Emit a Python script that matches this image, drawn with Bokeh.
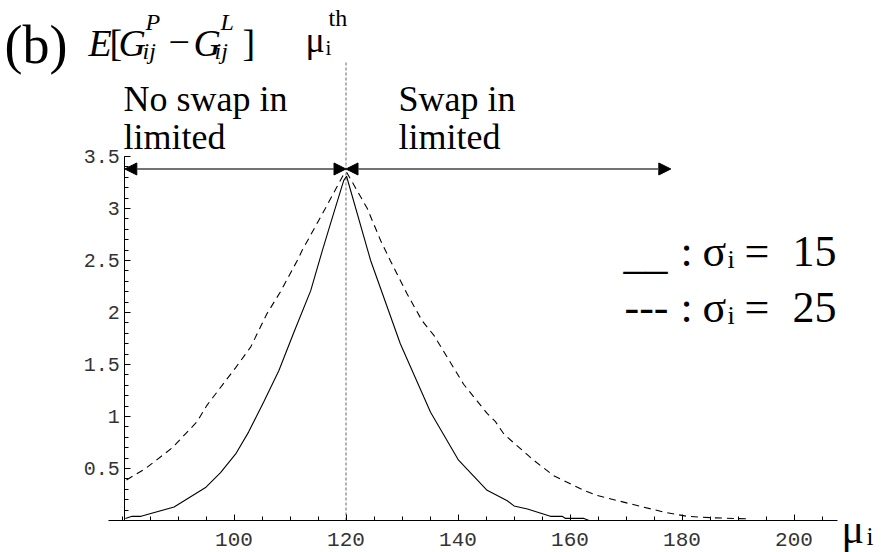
from bokeh.plotting import figure
from bokeh.models import Range1d, FixedTicker, Label, Arrow, NormalHead
from bokeh.embed import file_html
from bokeh.resources import INLINE

# ---------------- data ----------------
solid_x = [80.6, 81.8, 83.4, 89.3, 95.0, 97.6, 100.3, 102.6, 105.3, 108.0, 110.7,
           113.7, 115.8, 117.6, 119.6, 120.1, 124.4, 129.7, 135.1, 140.1, 145.2,
           148.8, 150.0, 152.4, 156.5, 158.6, 159.2, 162.5, 163.4]
solid_y = [0.02, 0.04, 0.04, 0.13, 0.32, 0.46, 0.64, 0.85, 1.14, 1.44, 1.81,
           2.21, 2.60, 2.92, 3.27, 3.31, 2.50, 1.70, 1.04, 0.58, 0.29,
           0.19, 0.14, 0.11, 0.04, 0.04, 0.02, 0.02, 0.0]

dashed_x = [80.8, 84.2, 89.0, 93.4, 95.2, 100.3, 103.0, 105.9, 108.3, 111.3, 112.2,
            116.3, 119.6, 120.1, 123.8, 126.2, 127.9, 130.9, 133.6, 135.7, 141.0,
            143.4, 145.2, 146.7, 148.2, 153.5, 157.1, 162.5, 164.9, 170.8, 176.8,
            180.9, 185.7, 191.6]
dashed_y = [0.39, 0.50, 0.70, 0.95, 1.11, 1.47, 1.67, 1.99, 2.20, 2.50, 2.60,
            3.00, 3.33, 3.35, 3.00, 2.69, 2.50, 2.18, 1.92, 1.78, 1.31,
            1.15, 1.03, 0.95, 0.83, 0.58, 0.43, 0.29, 0.24, 0.16, 0.08,
            0.04, 0.026, 0.016]

mu_th = 120
x_start = 80.5          # left end of data / y-axis position
x_axis_bounds = (77.6, 207.8)
y_axis_bounds = (0, 3.5)
swap_end = 178          # end of the "Swap in limited" arrow
arrow_level = 3.38

x_ticks = [100, 120, 140, 160, 180, 200]
x_tick_labels = ["100", "120", "140", "160", "180", "200"]
y_ticks = [0.5, 1, 1.5, 2, 2.5, 3, 3.5]
y_tick_labels = ["0.5", "1", "1.5", "2", "2.5", "3", "3.5"]

# ---------------- figure ----------------
W, H = 888, 552
# pixel <-> data mapping: x=120 at px 345.5, 5.6 px per unit; y=0 at px 520, 104 px per unit
X0PX, XSC = 345.5, 5.6
Y0PX, YSC = 520.0, 104.0

def dx(px):
    return 120 + (px - X0PX) / XSC

def dy(py):
    return (Y0PX - py) / YSC

p = figure(width=W, height=H, output_backend="svg", toolbar_location=None,
           x_range=Range1d(dx(0), dx(W)), y_range=Range1d(dy(H), dy(0)),
           min_border=0)
p.outline_line_color = None
p.grid.visible = False
p.background_fill_color = "white"
p.border_fill_color = "white"

tick_font = "Liberation Mono"
ax = p.xaxis[0]
ax.fixed_location = 0
ax.bounds = x_axis_bounds
ax.ticker = FixedTicker(ticks=x_ticks, minor_ticks=list(range(80, 210, 5)))
ax.major_label_overrides = dict(zip(x_ticks, x_tick_labels))
ax.major_tick_in, ax.major_tick_out = 6, 0
ax.minor_tick_in, ax.minor_tick_out = 4, 0
ax.axis_line_color = "black"
ax.major_tick_line_color = "black"
ax.minor_tick_line_color = "black"
ax.major_label_text_font = tick_font
ax.major_label_text_font_size = "21px"
ax.major_label_text_color = "#333333"
ax.major_label_standoff = 12

ay = p.yaxis[0]
ay.fixed_location = x_start
ay.bounds = y_axis_bounds
ay.ticker = FixedTicker(ticks=y_ticks, minor_ticks=[round(0.1 * k, 1) for k in range(1, 36)])
ay.major_label_overrides = dict(zip(y_ticks, y_tick_labels))
ay.major_tick_in, ay.major_tick_out = 6, 0
ay.minor_tick_in, ay.minor_tick_out = 4, 0
ay.axis_line_color = "black"
ay.major_tick_line_color = "black"
ay.minor_tick_line_color = "black"
ay.major_label_text_font = tick_font
ay.major_label_text_font_size = "20px"
ay.major_label_text_color = "#333333"
ay.major_label_standoff = 5

# threshold line
p.line([mu_th, mu_th], [0, dy(62)], line_color="#666666", line_width=1, line_dash="3 2")

# curves
p.line(solid_x, solid_y, line_color="black", line_width=1.1)
p.line(dashed_x, dashed_y, line_color="black", line_width=1.1, line_dash="7 5")

# arrows
for xs, xe in [(x_start, mu_th), (mu_th, swap_end)]:
    p.add_layout(Arrow(x_start=xs, y_start=arrow_level, x_end=xe, y_end=arrow_level,
                       line_color="#444444", line_width=1.5,
                       start=NormalHead(size=12, fill_color="black", line_color="black"),
                       end=NormalHead(size=12, fill_color="black", line_color="black")))

SERIF = "Liberation Serif"
BASE_FIX = 11   # rendered baseline sits this many px below the given y

def lab(text, px, base, size, style="normal", color="black"):
    p.add_layout(Label(x=dx(px), y=dy(base - BASE_FIX), text=text, text_font=SERIF,
                       text_font_size=f"{size}px", text_font_style=style,
                       text_color=color, text_baseline="alphabetic", text_align="left"))

# title row (baselines in px from top)
lab("(b)", 4, 55, 54)
lab("E", 88, 53, 38, "italic")
lab("[", 109, 53, 38)
lab("G", 118, 53, 38, "italic")
lab("P", 145, 32, 24, "italic")
lab("ij", 142, 61, 24, "italic")
lab("\u2212", 168, 53, 38)
lab("G", 193, 53, 38, "italic")
lab("L", 220, 32, 24, "italic")
lab("ij", 214, 61, 24, "italic")
lab("]", 242, 53, 38)
lab("\u03bc", 305, 50, 36)
lab("i", 325, 58, 21)
lab("th", 328, 28, 24)

# region labels
lab("No swap in", 123, 109, 36)
lab("limited", 123, 147, 36)
lab("Swap in", 398, 109, 36)
lab("limited", 398, 147, 36)

# legend
lab("__", 623, 264, 44)
lab(":", 680, 262, 44)
lab("\u03c3", 702, 262, 44)
lab("i", 727, 270, 26)
lab("=", 744, 262, 44)
lab("15", 792, 262, 44)
lab("---", 624, 318, 44)
lab(":", 680, 318, 44)
lab("\u03c3", 702, 318, 44)
lab("i", 727, 326, 26)
lab("=", 744, 318, 44)
lab("25", 792, 318, 44)

# x-axis title
lab("\u03bc", 841, 539, 42)
lab("i", 866, 547, 25)

open("out.html", "w").write(file_html(p, INLINE))
